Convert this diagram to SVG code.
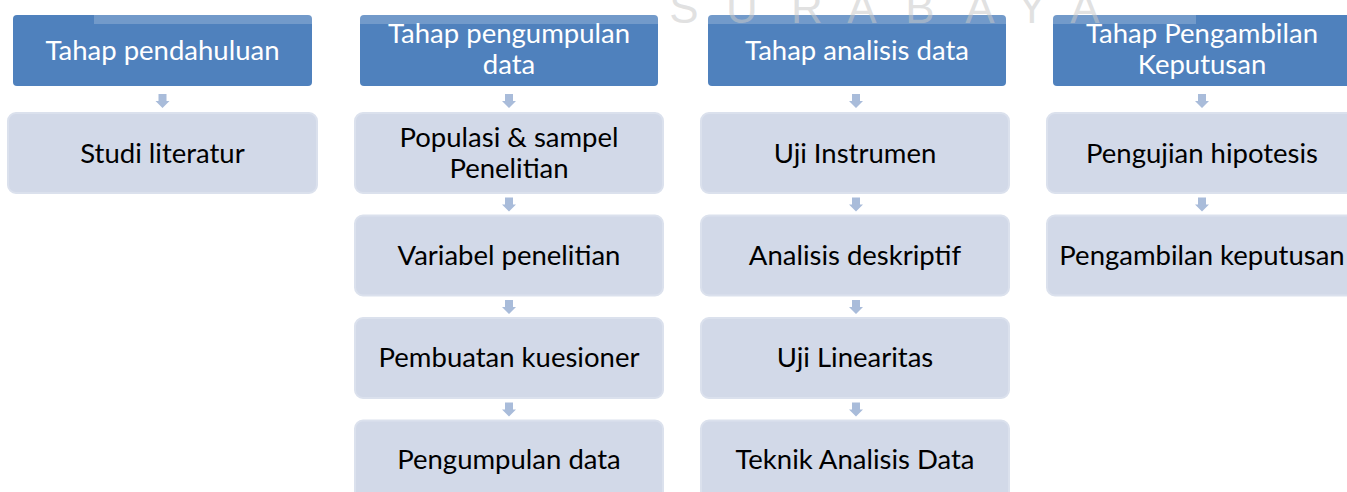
<svg xmlns="http://www.w3.org/2000/svg" xmlns:xlink="http://www.w3.org/1999/xlink" width="1347" height="492" viewBox="0 0 1347 492">
<style>
.hdr{fill:#4F81BD;}
.box{fill:#D2D9E8;stroke:#DBE1ED;stroke-width:2;}
.ht{font-family:Lato,"Liberation Sans",sans-serif;font-size:27.5px;fill:#FFFFFF;text-anchor:middle;}
.bt{font-family:Lato,"Liberation Sans",sans-serif;font-size:27.5px;fill:#000000;text-anchor:middle;}
.wm{font-family:"Liberation Sans",Arial,sans-serif;font-size:44px;fill:#C8C8C8;fill-opacity:0.55;text-anchor:middle;}
.arr{fill:#A9BCDA;}
</style>
<defs>
<path id="arrow" d="M-4,0 L4,0 L4,7 L7,7 L0,14 L-7,7 L-4,7 Z"/>
</defs>
<rect width="1347" height="492" fill="#FFFFFF"/>

<g id="col1-header">
<rect class="hdr" x="13" y="15" width="299" height="71" rx="4"/>
<text class="ht" x="162.5" y="60">Tahap pendahuluan</text>
</g>
<g id="col1-box1">
<rect class="box" x="8" y="113" width="309" height="80" rx="8"/>
<text class="bt" x="162.5" y="163">Studi literatur</text>
</g>

<g id="col2-header">
<rect class="hdr" x="360" y="15" width="298" height="71" rx="4"/>
<text class="ht" x="509" y="43">Tahap pengumpulan</text>
<text class="ht" x="509" y="74">data</text>
</g>
<g id="col2-box1">
<rect class="box" x="355" y="113" width="308" height="80" rx="8"/>
<text class="bt" x="509" y="147">Populasi &amp; sampel</text>
<text class="bt" x="509" y="178">Penelitian</text>
</g>
<g id="col2-box2">
<rect class="box" x="355" y="215.5" width="308" height="80" rx="8"/>
<text class="bt" x="509" y="264.5">Variabel penelitian</text>
</g>
<g id="col2-box3">
<rect class="box" x="355" y="318" width="308" height="80" rx="8"/>
<text class="bt" x="509" y="367">Pembuatan kuesioner</text>
</g>
<g id="col2-box4">
<rect class="box" x="355" y="420.5" width="308" height="80" rx="8"/>
<text class="bt" x="509" y="469">Pengumpulan data</text>
</g>

<g id="col3-header">
<rect class="hdr" x="708" y="15" width="298" height="71" rx="4"/>
<text class="ht" x="857" y="60">Tahap analisis data</text>
</g>
<g id="col3-box1">
<rect class="box" x="701" y="113" width="308" height="80" rx="8"/>
<text class="bt" x="855" y="163">Uji Instrumen</text>
</g>
<g id="col3-box2">
<rect class="box" x="701" y="215.5" width="308" height="80" rx="8"/>
<text class="bt" x="855" y="264.5">Analisis deskriptif</text>
</g>
<g id="col3-box3">
<rect class="box" x="701" y="318" width="308" height="80" rx="8"/>
<text class="bt" x="855" y="367">Uji Linearitas</text>
</g>
<g id="col3-box4">
<rect class="box" x="701" y="420.5" width="308" height="80" rx="8"/>
<text class="bt" x="855" y="469">Teknik Analisis Data</text>
</g>

<g id="col4-header">
<rect class="hdr" x="1053" y="15" width="299" height="71" rx="4"/>
<text class="ht" x="1202" y="43">Tahap Pengambilan</text>
<text class="ht" x="1202" y="74">Keputusan</text>
</g>
<g id="col4-box1">
<rect class="box" x="1047" y="113" width="309" height="80" rx="8"/>
<text class="bt" x="1202" y="163">Pengujian hipotesis</text>
</g>
<g id="col4-box2">
<rect class="box" x="1047" y="215.5" width="309" height="80" rx="8"/>
<text class="bt" x="1202" y="264.5">Pengambilan keputusan</text>
</g>

<g id="connectors" class="arr">
<use xlink:href="#arrow" x="162.5" y="94"/>
<use xlink:href="#arrow" x="509" y="94"/>
<use xlink:href="#arrow" x="509" y="197.5"/>
<use xlink:href="#arrow" x="509" y="300"/>
<use xlink:href="#arrow" x="509" y="402.5"/>
<use xlink:href="#arrow" x="856" y="94"/>
<use xlink:href="#arrow" x="856" y="197.5"/>
<use xlink:href="#arrow" x="856" y="300"/>
<use xlink:href="#arrow" x="856" y="402.5"/>
<use xlink:href="#arrow" x="1202" y="94"/>
<use xlink:href="#arrow" x="1202" y="197.5"/>
</g>

<g id="watermark">
<rect x="94" y="0" width="1102" height="24" fill="#FFFFFF" fill-opacity="0.2"/>
<text class="wm" x="684" y="22.5">S</text>
<text class="wm" x="742" y="22.5">U</text>
<text class="wm" x="807" y="22.5">R</text>
<text class="wm" x="862" y="22.5">A</text>
<text class="wm" x="920" y="22.5">B</text>
<text class="wm" x="980" y="22.5">A</text>
<text class="wm" x="1032" y="22.5">Y</text>
<text class="wm" x="1085" y="22.5">A</text>
</g>
</svg>
